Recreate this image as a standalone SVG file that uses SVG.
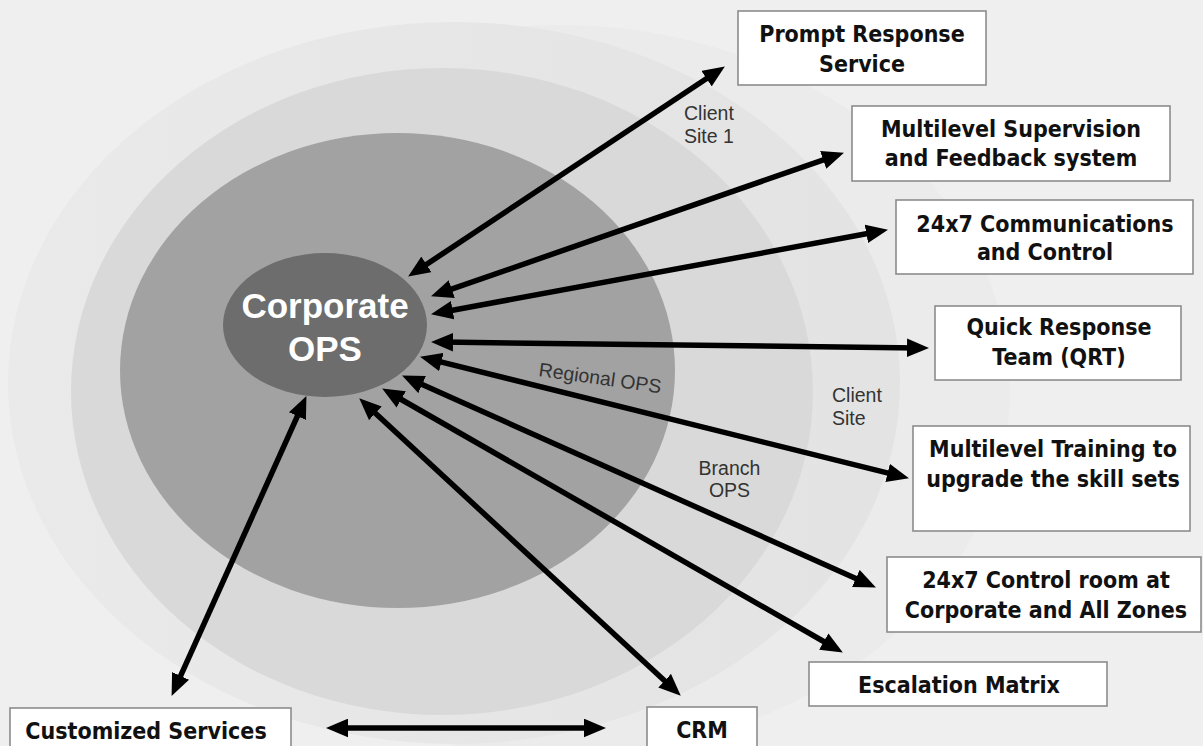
<svg xmlns="http://www.w3.org/2000/svg" width="1203" height="746" viewBox="0 0 1203 746">
<defs>
<style>
.box{fill:#ffffff;stroke:#8c8c8c;stroke-width:1.6}
.bt{font-family:"DejaVu Sans Condensed","DejaVu Sans",sans-serif;font-weight:bold;font-size:23px;fill:#111;text-anchor:middle}
.lbl{font-family:"Liberation Sans",Arial,sans-serif;font-size:19.5px;fill:#333}
.core{font-family:"Liberation Sans",Arial,sans-serif;font-weight:bold;font-size:35px;fill:#ffffff;text-anchor:middle}
.arr{stroke:#000;stroke-width:5.5;fill:none;marker-start:url(#ah);marker-end:url(#ah)}
</style>
<linearGradient id="gA" x1="0" y1="0" x2="1" y2="0">
<stop offset="0" stop-color="#eaeaea"/>
<stop offset="0.55" stop-color="#e6e6e6"/>
<stop offset="1" stop-color="#e3e3e3"/>
</linearGradient>
<marker id="ah" markerUnits="userSpaceOnUse" markerWidth="22" markerHeight="19" refX="10" refY="8.5" orient="auto-start-reverse" viewBox="0 0 20 17">
<path d="M0,0 L20,8.5 L0,17 z" fill="#000"/>
</marker>
</defs>
<rect x="0" y="0" width="1203" height="746" fill="#efefef"/>
<g id="rings">
<ellipse id="ring-client-site-1" cx="560" cy="390" rx="450" ry="365" fill="#ebebeb"/>
<ellipse id="ring-client-site" cx="454" cy="383" rx="446" ry="361" fill="url(#gA)"/>
<ellipse id="ring-branch" cx="442" cy="391.5" rx="371" ry="323.5" fill="#d9d9d9"/>
<ellipse id="ring-regional" cx="397.5" cy="370.5" rx="277.5" ry="237.5" fill="#a2a2a2"/>
</g>
<g id="ring-labels">
<text class="lbl" x="684" y="120">Client<tspan x="684" dy="23">Site 1</tspan></text>
<text class="lbl" x="832" y="402">Client<tspan x="832" dy="23">Site</tspan></text>
<text class="lbl" x="729.5" y="475" text-anchor="middle">Branch<tspan x="729.5" dy="22">OPS</tspan></text>
<text class="lbl" x="538" y="376" font-size="19" transform="rotate(8 538 376)">Regional OPS</text>
</g>
<g id="corporate-ops">
<ellipse cx="325" cy="325" rx="102" ry="72" fill="#6d6d6d"/>
<text class="core" x="325" y="318">Corporate</text>
<text class="core" x="325" y="361">OPS</text>
</g>
<g id="connectors">
<line class="arr" x1="417.3" y1="270.5" x2="715.7" y2="72.5"/>
<line class="arr" x1="441.4" y1="292.7" x2="833.6" y2="156.3"/>
<line class="arr" x1="441.8" y1="312.2" x2="877.2" y2="231.8"/>
<line class="arr" x1="442" y1="342.1" x2="918" y2="347.9"/>
<line class="arr" x1="430.7" y1="359.4" x2="898.3" y2="475.6"/>
<line class="arr" x1="412.1" y1="380.1" x2="865.9" y2="582.9"/>
<line class="arr" x1="391.7" y1="394" x2="833.3" y2="647"/>
<line class="arr" x1="367.3" y1="405.8" x2="672.7" y2="688.2"/>
<line class="arr" x1="301.9" y1="406.1" x2="176.1" y2="685.9"/>
<line class="arr" x1="337" y1="728" x2="595" y2="728"/>
</g>
<g id="prompt-response">
<rect class="box" x="738" y="11" width="248" height="74"/>
<text class="bt" x="862" y="42">Prompt Response</text>
<text class="bt" x="862" y="72">Service</text>
</g>
<g id="multilevel-supervision">
<rect class="box" x="852" y="106" width="318" height="75"/>
<text class="bt" x="1011" y="137">Multilevel Supervision</text>
<text class="bt" x="1011" y="166">and Feedback system</text>
</g>
<g id="communications-control">
<rect class="box" x="896" y="200" width="297" height="74"/>
<text class="bt" x="1045" y="232">24x7 Communications</text>
<text class="bt" x="1045" y="260">and Control</text>
</g>
<g id="quick-response-team">
<rect class="box" x="935" y="306" width="246" height="74"/>
<text class="bt" x="1059" y="335">Quick Response</text>
<text class="bt" x="1059" y="365">Team (QRT)</text>
</g>
<g id="multilevel-training">
<rect class="box" x="913" y="426" width="277" height="105"/>
<text class="bt" x="1053" y="457">Multilevel Training to</text>
<text class="bt" x="1053" y="487">upgrade the skill sets</text>
</g>
<g id="control-room">
<rect class="box" x="887" y="557" width="314" height="75"/>
<text class="bt" x="1046" y="588">24x7 Control room at</text>
<text class="bt" x="1046" y="618">Corporate and All Zones</text>
</g>
<g id="escalation-matrix">
<rect class="box" x="809" y="662" width="298" height="44"/>
<text class="bt" x="959" y="693">Escalation Matrix</text>
</g>
<g id="crm">
<rect class="box" x="647" y="707" width="110" height="45"/>
<text class="bt" x="702" y="738">CRM</text>
</g>
<g id="customized-services">
<rect class="box" x="10" y="708" width="281" height="45"/>
<text class="bt" x="146" y="739">Customized Services</text>
</g>
</svg>
